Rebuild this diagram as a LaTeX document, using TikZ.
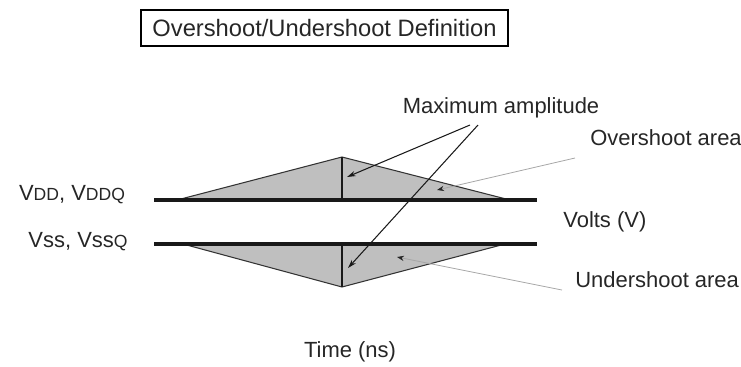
\documentclass[tikz,border=0pt]{standalone}
\usepackage{fontspec}
\setmainfont{Liberation Sans}
\usetikzlibrary{arrows.meta,positioning}

\begin{document}
\begin{tikzpicture}[x=0.02cm,y=-0.02cm,
  rail/.style={line width=2.8pt,black!90},
  area/.style={fill=black!25},
  edge/.style={black!80,line width=0.6pt},
  amp/.style={line width=1.7pt,black!90},
  pointer/.style={-{Stealth[length=5pt,width=3pt]},line width=0.6pt,black!90},
  leader/.style={-{Stealth[length=4pt,width=3pt,black!85]},line width=0.45pt,black!35},
  lbl/.style={inner sep=0pt,text=black!85,font=\fontsize{12.5}{15}\selectfont}]
 \useasboundingbox (0,0) rectangle (741,366);
 % title
 \node[draw,line width=0.8pt,minimum width=7.34cm,minimum height=0.72cm,
       font=\fontsize{13.5}{16}\selectfont,text=black!85] (title) at (324.5,28)
       {Overshoot/Undershoot Definition};
 % overshoot / undershoot areas
 \coordinate (oL) at (177,200); \coordinate (oP) at (342,157);
 \coordinate (oR) at (510,200); \coordinate (oB) at (342,200);
 \coordinate (uL) at (183,244); \coordinate (uP) at (342,287);
 \coordinate (uR) at (505,244); \coordinate (uT) at (342,244);
 \fill[area] (oL) -- (oP) -- (oR) -- cycle;
 \fill[area] (uL) -- (uP) -- (uR) -- cycle;
 \draw[edge] (oL) -- (oP) -- (oR);
 \draw[edge] (uL) -- (uP) -- (uR);
 \draw[amp] (oP) -- (oB);
 \draw[amp] (uT) -- (uP);
 % supply rails
 \coordinate (vddL) at (154,200); \coordinate (vddR) at (537,200);
 \coordinate (vssL) at (154,244); \coordinate (vssR) at (537,244);
 \draw[rail] (vddL) -- (vddR);
 \draw[rail] (vssL) -- (vssR);
 % labels
 \node[lbl] (vdd) at (72,195) {V{\fontsize{10}{12}\selectfont DD}, V{\fontsize{10}{12}\selectfont DDQ}};
 \node[lbl] (vss) at (78,242) {Vss, Vss{\fontsize{10}{12}\selectfont Q}};
 \node[lbl] (maxamp) at (501,108) {Maximum amplitude};
 \node[lbl,anchor=west] (over) at (590,138) {Overshoot area};
 \node[lbl,anchor=west] (volts) at (563,222) {Volts (V)};
 \node[lbl,anchor=west] (under) at (575,280) {Undershoot area};
 \node[lbl] (time) at (350,352) {Time (ns)};
 % pointers
 \coordinate (ma1) at (470,125); \coordinate (ma2) at (478,125);
 \coordinate (ampTop) at (347,177); \coordinate (ampBot) at (348,268);
 \draw[pointer] (ma1) -- (ampTop);
 \draw[pointer] (ma2) -- (ampBot);
 \coordinate (overTail) at (575,158); \coordinate (overTip) at (437,190);
 \coordinate (underTail) at (562,290); \coordinate (underTip) at (397,257);
 \draw[leader] (overTail) -- (overTip);
 \draw[leader] (underTail) -- (underTip);
\end{tikzpicture}
\end{document}
